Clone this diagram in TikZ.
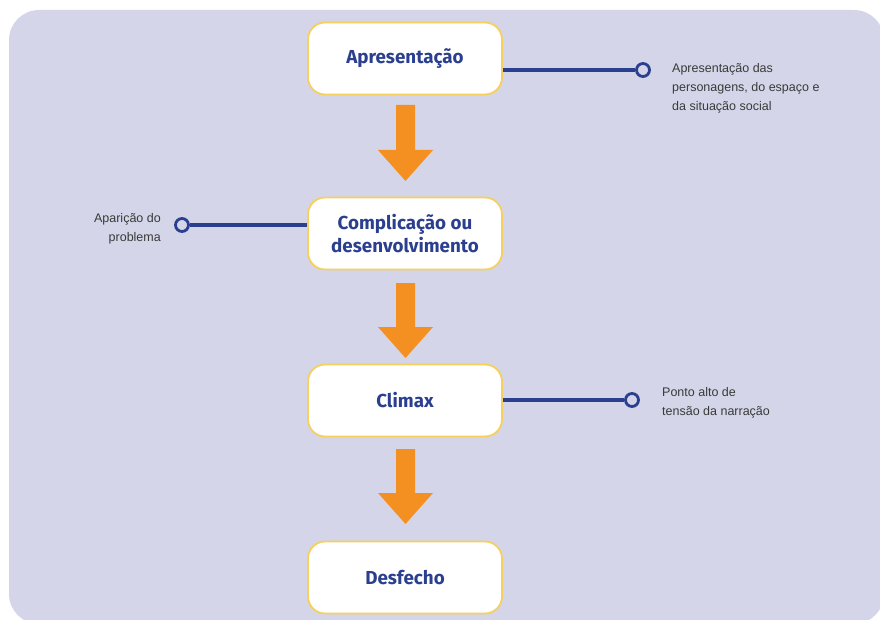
\documentclass[tikz,border=0pt]{standalone}
\usepackage{fontspec}
\setmainfont{Liberation Sans}
\newfontfamily\titlefont{Fira Sans}
\begin{document}
\begin{tikzpicture}[x=1pt,y=-1pt,
  stagebox/.style={draw=boxedge, line width=1.8pt, fill=white, rounded corners=17pt,
    minimum width=194pt, minimum height=72pt, inner sep=0pt, align=center,
    font=\titlefont\bfseries\fontsize{18.8}{23}\selectfont, text=navy},
  link/.style={draw=navy, line width=3.6pt},
  endring/.style={circle, draw=navy, line width=2.8pt, fill=panel, minimum size=13pt, inner sep=0pt},
  note/.style={font=\fontsize{12.5}{19}\selectfont, text=notegray, inner sep=0pt},
  flow/.style={fill=flowarrow, draw=none}
]
\definecolor{panel}{HTML}{D4D5E8}
\definecolor{boxedge}{HTML}{F6CF5C}
\definecolor{navy}{HTML}{2B3F8F}
\definecolor{flowarrow}{HTML}{F39021}
\definecolor{notegray}{HTML}{3A3A3A}
\useasboundingbox (0,0) rectangle (880,620);
\fill[panel, rounded corners=30pt] (9,10) rectangle (884,624);

% stages
\node[stagebox] (apr) at (405,58.5) {Apresentação};
\node[stagebox] (comp) at (405,233.5) {Complicação ou\\desenvolvimento};
\node[stagebox] (clim) at (405,400.5) {Climax};
\node[stagebox] (desf) at (405,577.5) {Desfecho};

% flow arrows between stages
\foreach \top/\tip in {105/181, 283/358, 449/524}{
  \fill[flowarrow] (396,\top) -- (415,\top) -- (415,\tip-31) -- (433,\tip-31)
    -- (405.5,\tip) -- (378,\tip-31) -- (396,\tip-31) -- cycle;
}

% side notes
\node[endring] (r1) at (643,70) {};
\draw[link] (apr.east |- r1) -- (r1);
\node[note, anchor=north west, align=left] (n1) at (672,63) {Apresentação das\\personagens, do espaço e\\da situação social};

\node[endring] (r2) at (182,225) {};
\draw[link] (r2) -- (comp.west |- r2);
\node[note, anchor=north east, align=right] (n2) at (161,213) {Aparição do\\problema};

\node[endring] (r3) at (632,400) {};
\draw[link] (clim.east |- r3) -- (r3);
\node[note, anchor=north west, align=left] (n3) at (662,387) {Ponto alto de\\tensão da narração};
\end{tikzpicture}
\end{document}
